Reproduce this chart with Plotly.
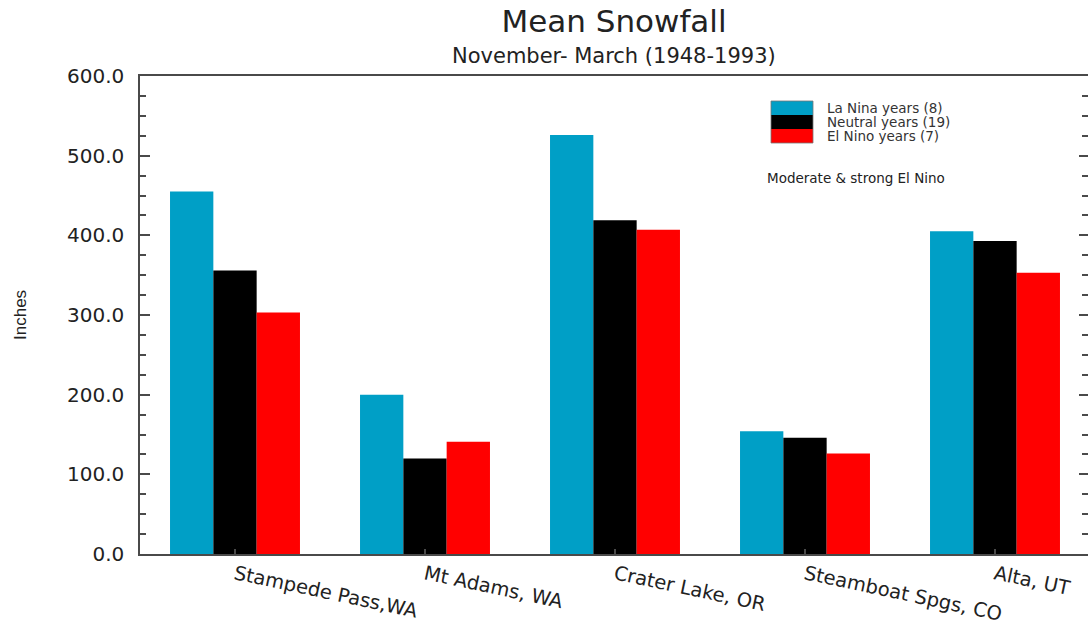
import plotly.graph_objects as go

sites = ["Stampede Pass,WA", "Mt Adams, WA", "Crater Lake, OR", "Steamboat Spgs, CO", "Alta, UT"]
la_nina = [455, 200, 526, 154, 405]
neutral = [356, 120, 419, 146, 393]
el_nino = [303, 141, 407, 126, 353]
series_names = ["La Nina years (8)", "Neutral years (19)", "El Nino years (7)"]
series_colors = ["#009fc6", "#000000", "#ff0000"]
y_ticks = [0, 100, 200, 300, 400, 500, 600]

FONT = "DejaVu Sans, Liberation Sans, Arial, sans-serif"
AX = "#4a4a4a"

fig = go.Figure()
for name, vals, col in zip(series_names, [la_nina, neutral, el_nino], series_colors):
    fig.add_trace(go.Bar(x=sites, y=vals, name=name, marker=dict(color=col, line=dict(width=0)),
                         showlegend=False))
# empty trace so the right-hand tick axis is drawn
fig.add_trace(go.Scatter(x=[], y=[], yaxis="y2", showlegend=False, hoverinfo="skip"))

L, R, T, B = 140, 0, 76, 76
W, H = 1088, 630
pw = W - L - R
x_range = [-0.5, -0.5 + pw / 190.0]

fig.update_layout(
    width=W, height=H,
    margin=dict(l=L, r=R, t=T, b=B, autoexpand=False),
    paper_bgcolor="white", plot_bgcolor="white",
    barmode="group", bargap=0.316, bargroupgap=0,
    font=dict(family=FONT, color="#222"),
    title=dict(text="Mean Snowfall", x=0.5, xref="paper", xanchor="center",
               y=1 - 21 / H, yref="container", yanchor="middle",
               font=dict(size=31, family=FONT, color="#222")),
    xaxis=dict(range=x_range, showline=True, linecolor=AX, linewidth=1.5, mirror=True,
               ticks="inside", ticklen=5, tickcolor=AX, tickwidth=1.5,
               tickangle=12, tickfont=dict(size=19.5, family=FONT, color="#222"),
               automargin=False, showgrid=False, zeroline=False),
    yaxis=dict(range=[0, 600], tickvals=y_ticks, tickformat=".1f",
               showline=True, linecolor=AX, linewidth=1.5,
               ticks="inside", ticklen=10, tickcolor=AX, tickwidth=1.5,
               minor=dict(dtick=25, ticks="inside", ticklen=6, tickcolor=AX, tickwidth=1.5, showgrid=False),
               tickfont=dict(size=20, family=FONT, color="#222"),
               ticklabelstandoff=10, automargin=False,
               showgrid=False, zeroline=False),
    yaxis2=dict(range=[0, 600], overlaying="y", side="right", anchor="x",
                tickvals=y_ticks, showticklabels=False, showline=False,
                ticks="inside", ticklen=9, tickcolor=AX, tickwidth=1.5,
                minor=dict(dtick=25, ticks="inside", ticklen=6, tickcolor=AX, tickwidth=1.5, showgrid=False),
                automargin=False, showgrid=False, zeroline=False),
)

def px_x(p):
    return (p - L) / pw

def px_y(p):
    return 1 - (p - T) / (H - T - B)

fig.add_annotation(text="November- March (1948-1993)", xref="paper", yref="paper",
                   x=0.5, y=px_y(56), xanchor="center", yanchor="middle", showarrow=False,
                   font=dict(size=21, family=FONT, color="#222"))
fig.add_annotation(text="Inches", xref="paper", yref="paper", x=px_x(20), y=px_y(315),
                   xanchor="center", yanchor="middle", textangle=-90, showarrow=False,
                   font=dict(size=17, family="Liberation Sans Narrow, Liberation Sans, Arial", color="#222"))

leg_rows = [(101, 115, 108), (115, 129, 122), (129, 143, 136)]
for (y0, y1, yc), name, col in zip(leg_rows, series_names, series_colors):
    fig.add_shape(type="rect", xref="paper", yref="paper", x0=px_x(771), x1=px_x(813),
                  y0=px_y(y1), y1=px_y(y0), fillcolor=col, line=dict(width=0))
    fig.add_annotation(text=name, xref="paper", yref="paper", x=px_x(825), y=px_y(yc),
                       xanchor="left", yanchor="middle", showarrow=False,
                       font=dict(size=13.5, family=FONT, color="#333"))
fig.add_shape(type="rect", xref="paper", yref="paper", x0=px_x(771), x1=px_x(813),
              y0=px_y(143), y1=px_y(101), line=dict(width=0.8, color="#777"))
fig.add_annotation(text="Moderate & strong El Nino", xref="paper", yref="paper",
                   x=px_x(765), y=px_y(178), xanchor="left", yanchor="middle", showarrow=False,
                   font=dict(size=13.5, family=FONT, color="#222"))

fig.write_html("out.html")
